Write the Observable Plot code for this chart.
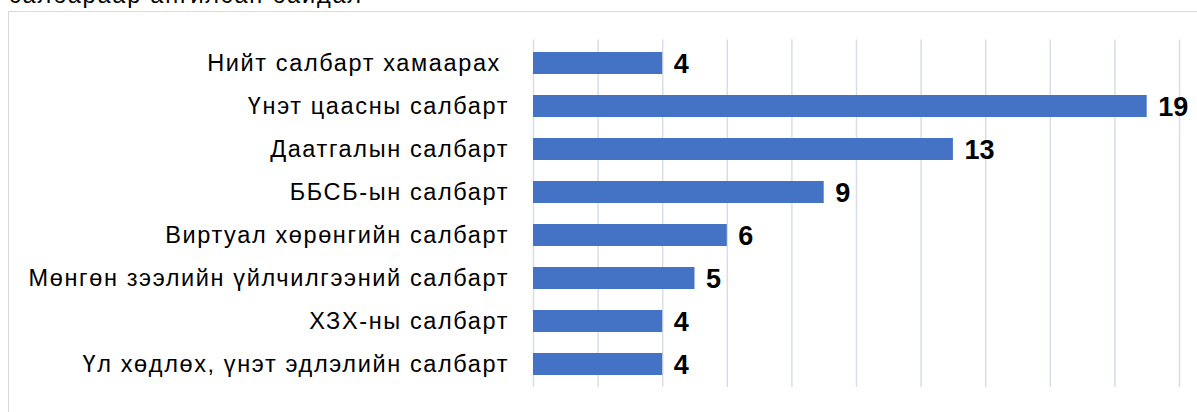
<!DOCTYPE html>
<html>
<head>
<meta charset="utf-8">
<script src="https://cdn.jsdelivr.net/npm/d3@7"></script>
<script src="https://cdn.jsdelivr.net/npm/@observablehq/plot@0.6"></script>
<style>
  html, body { margin: 0; padding: 0; background: #fff; overflow: hidden; }
  #title { position: absolute; left: 9px; font-family: "Liberation Sans", Arial, sans-serif; color: #000; white-space: nowrap; line-height: 1; }
  #box { position: absolute; left: 8px; top: 11px; width: 1200px; height: 420px; border: 1px solid #d9d9d9; box-sizing: border-box; }
  #chart { position: absolute; left: 0; top: 0; }
</style>
</head>
<body>
<div id="title">салбараар ангилсан байдал</div>
<div id="box"></div>
<div id="chart"></div>
<script>
const titleText = "салбараар ангилсан байдал";
const categories = [
  "Нийт салбарт хамаарах\u00A0",
  "Үнэт цаасны салбарт",
  "Даатгалын салбарт",
  "ББСБ-ын салбарт",
  "Виртуал хөрөнгийн салбарт",
  "Мөнгөн зээлийн үйлчилгээний салбарт",
  "ХЗХ-ны салбарт",
  "Үл хөдлөх, үнэт эдлэлийн салбарт"
];
const values = [4, 19, 13, 9, 6, 5, 4, 4];
const xTicks = [0, 2, 4, 6, 8, 10, 12, 14, 16, 18, 20];

const data = categories.map((c, i) => ({category: c, value: values[i]}));

// reference glyphs: cap height ~16px but wide; use 23.5px with letter spacing to match widths
const fontSize = 23.5;
const ctx = document.createElement("canvas").getContext("2d");
function spacingFor(text, target) {
  ctx.font = fontSize + "px 'Liberation Sans'";
  const w = ctx.measureText(text).width;
  const ls = (target - w) / Math.max(1, text.length - 1);
  return Math.max(0, Math.min(2, ls));
}
const labelSpacing = spacingFor("Мөнгөн зээлийн үйлчилгээний салбарт", 479);
const titleSpacing = spacingFor(titleText, 352);
const title = document.getElementById("title");
title.style.fontSize = fontSize + "px";
title.style.letterSpacing = titleSpacing + "px";
title.style.top = (5.5 - 0.905 * fontSize) + "px";

const chart = Plot.plot({
  width: 1197,
  height: 412,
  marginLeft: 533,
  marginRight: 18,
  marginTop: 39.5,
  marginBottom: 25,
  style: {background: "transparent", fontFamily: "'Liberation Sans', Arial, sans-serif", fontSize: fontSize + "px"},
  x: {domain: [0, 20], axis: null},
  y: {domain: categories, paddingInner: 0.49, paddingOuter: 0.245, label: null},
  marks: [
    Plot.gridX(xTicks, {stroke: "#d9dde8", strokeOpacity: 1, strokeWidth: 1.5}),
    Plot.barX(data, {x: "value", y: "category", fill: "#4472C4"}),
    Plot.text(data, {
      x: "value", y: "category", text: d => String(d.value),
      textAnchor: "start", dx: 11, dy: 1,
      fontSize: 27, fontWeight: "bold", fill: "#000",
      fontFamily: "'Liberation Sans', Arial, sans-serif"
    }),
    Plot.axisY({tickSize: 0, tickPadding: 26 - labelSpacing, fontSize: fontSize, label: null, fill: "#000"})
  ]
});
chart.querySelectorAll("[aria-label='y-axis tick label']").forEach(g => {
  g.setAttribute("font-size", fontSize);
  g.setAttribute("letter-spacing", labelSpacing);
});
chart.querySelectorAll("[aria-label='y-axis tick label'] text").forEach(t => t.setAttribute("xml:space", "preserve"));
document.getElementById("chart").append(chart);
</script>
</body>
</html>
